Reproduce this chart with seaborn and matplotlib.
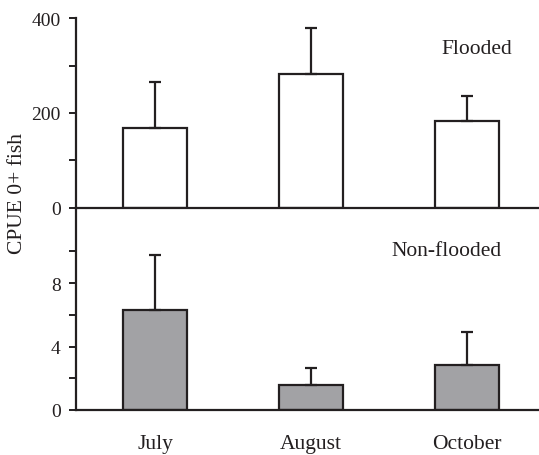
import numpy as np
import pandas as pd
import seaborn as sns
import matplotlib.pyplot as plt

# Data
months = ['July', 'August', 'October']
flooded = [168, 282, 184]
flooded_err = [97, 98, 52]
nonflooded = [6.3, 1.6, 2.85]
nonflooded_err = [3.5, 1.05, 2.1]

sns.set_theme(style='white')
plt.rcParams['font.family'] = ['Liberation Serif', 'DejaVu Serif']
plt.rcParams['text.color'] = '#231f20'
plt.rcParams['axes.labelcolor'] = '#231f20'
plt.rcParams['xtick.color'] = '#231f20'
plt.rcParams['ytick.color'] = '#231f20'

edge = '#231f20'
fig = plt.figure(figsize=(5.39, 4.56), dpi=100)
ax2 = fig.add_axes([0.141, 0.0987, 0.859, 0.4433])
ax1 = fig.add_axes([0.141, 0.542, 0.859, 0.416])
ax1.patch.set_visible(False)

df_top = pd.DataFrame({'month': months, 'cpue': flooded})
df_bot = pd.DataFrame({'month': months, 'cpue': nonflooded})

sns.barplot(data=df_top, x='month', y='cpue', ax=ax1, color='white',
            edgecolor=edge, linewidth=1.6, width=0.41, errorbar=None)
sns.barplot(data=df_bot, x='month', y='cpue', ax=ax2, color='#a2a2a5',
            saturation=1, edgecolor=edge, linewidth=1.6, width=0.41, errorbar=None)

x = np.arange(len(months))
ax1.errorbar(x, flooded, yerr=[np.zeros(3), flooded_err], fmt='none',
             ecolor=edge, elinewidth=1.6, capsize=4.5, capthick=1.6)
ax2.errorbar(x, nonflooded, yerr=[np.zeros(3), nonflooded_err], fmt='none',
             ecolor=edge, elinewidth=1.6, capsize=4.5, capthick=1.6)

for ax in (ax1, ax2):
    ax.set_xlim(-0.506, 2.46)
    ax.set_xlabel('')
    ax.set_ylabel('')
    for s in ('top', 'right'):
        ax.spines[s].set_visible(False)
    for s in ('left', 'bottom'):
        ax.spines[s].set_linewidth(1.6)
        ax.spines[s].set_color(edge)
    ax.tick_params(axis='y', direction='out', length=5, width=1.4,
                   labelsize=14, pad=6, left=True)
    ax.tick_params(axis='x', length=0, labelsize=15.5, pad=17.5)

ax1.set_ylim(0, 400)
ax1.set_yticks([0, 100, 200, 300, 400])
ax1.set_yticklabels(['0', '', '200', '', '400'])
ax1.set_xticks([])

ax2.set_ylim(0, 12.75)
ax2.set_yticks([0, 2, 4, 6, 8, 10])
ax2.set_yticklabels(['0', '', '4', '', '8', ''])

ax1.text(2.06, 337, 'Flooded', fontsize=15.5, ha='center', va='center')
ax2.text(1.87, 10.05, 'Non-flooded', fontsize=15.5, ha='center', va='center')

fig.text(0.033, 0.575, 'CPUE 0+ fish', rotation=90, fontsize=15.5,
         ha='center', va='center')

fig.savefig('out.png', dpi=100)
